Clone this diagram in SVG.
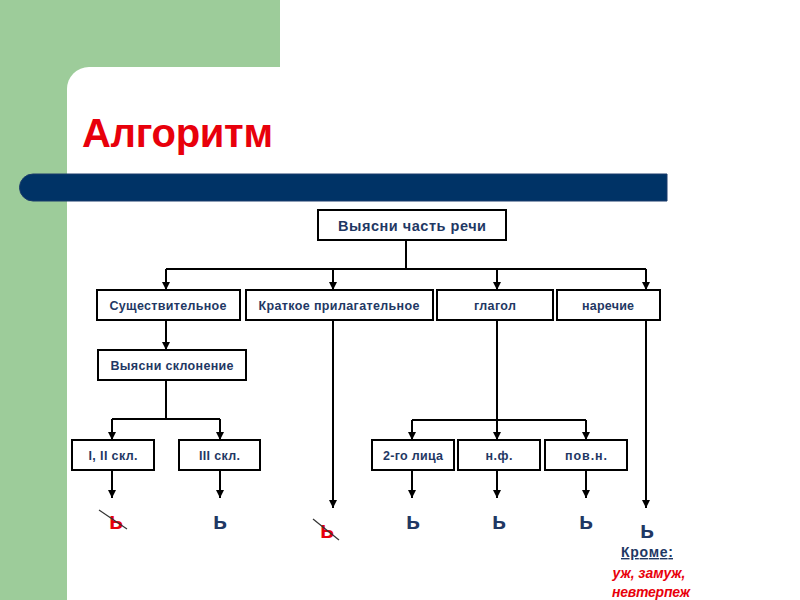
<svg xmlns="http://www.w3.org/2000/svg" width="800" height="600" viewBox="0 0 800 600">
<defs>
<style>
.bg{fill:#9dcc9a}
.box rect{fill:#fff;stroke:#000;stroke-width:2}
.box text{font-family:"Liberation Sans",Arial,sans-serif;font-weight:bold;font-size:12.5px;fill:#1f3864;text-anchor:middle}
.box text.big{font-size:14.5px}
.c path{fill:none;stroke:#000;stroke-width:2}
.c .a{marker-end:url(#ah)}
.soft{font-family:"Liberation Sans",Arial,sans-serif;font-weight:bold;font-size:23px;text-anchor:middle}
.blue{fill:#1f3864}
.red{fill:#e8000b}
.strike{stroke:#333;stroke-width:1.2}
.note{font-family:"Liberation Sans",Arial,sans-serif;font-weight:bold;font-size:14px;text-anchor:middle}
</style>
<marker id="ah" viewBox="0 0 8 8" refX="8" refY="4" markerWidth="8" markerHeight="8" markerUnits="userSpaceOnUse" orient="auto">
<path d="M0,0 L8,4 L0,8 Z" fill="#000"/>
</marker>
</defs>
<rect width="800" height="600" fill="#fff"/>
<rect class="bg" x="0" y="0" width="280" height="95"/>
<rect class="bg" x="0" y="0" width="90" height="600"/>
<rect x="67" y="67" width="780" height="580" rx="22" ry="22" fill="#fff"/>
<path d="M33,174 H667 V201 H33 A13.5,13.5 0 0 1 33,174 Z" fill="#003366" stroke="#1a3a6a" stroke-width="1"/>
<text x="82" y="147" font-family="'Liberation Sans',Arial,sans-serif" font-weight="bold" font-size="40" fill="#e8000b" textLength="191">Алгоритм</text>

<g class="c" id="connectors">
<path d="M406,240 V269"/>
<path d="M166,269 H646"/>
<path class="a" d="M166,269 V290"/>
<path class="a" d="M333,269 V290"/>
<path class="a" d="M497,269 V290"/>
<path class="a" d="M646,269 V290"/>
<path class="a" d="M166,320 V350"/>
<path d="M166,380 V419"/>
<path d="M112,419 H220"/>
<path class="a" d="M112,419 V440"/>
<path class="a" d="M220,419 V440"/>
<path class="a" d="M112,470 V498"/>
<path class="a" d="M220,470 V498"/>
<path class="a" d="M333,320 V508"/>
<path d="M497,320 V420"/>
<path d="M412,420 H586"/>
<path class="a" d="M412,420 V440"/>
<path class="a" d="M497,420 V440"/>
<path class="a" d="M586,420 V440"/>
<path class="a" d="M412,470 V498"/>
<path class="a" d="M497,470 V498"/>
<path class="a" d="M586,470 V498"/>
<path class="a" d="M646,320 V508"/>
</g>

<g class="box" id="n-main"><rect x="318" y="210" width="188" height="30"/><text class="big" x="412" y="230.5" textLength="148">Выясни часть речи</text></g>
<g class="box" id="n-noun"><rect x="97" y="290" width="143" height="30"/><text x="168" y="309.5" textLength="117">Существительное</text></g>
<g class="box" id="n-adj"><rect x="246" y="290" width="187" height="30"/><text x="339" y="309.5" textLength="161">Краткое прилагательное</text></g>
<g class="box" id="n-verb"><rect x="437" y="290" width="116" height="30"/><text x="495" y="309.5" textLength="42">глагол</text></g>
<g class="box" id="n-adv"><rect x="557" y="290" width="103" height="30"/><text x="608" y="309.5" textLength="52">наречие</text></g>
<g class="box" id="n-decl"><rect x="98" y="350" width="148" height="30"/><text x="172" y="369.5" textLength="123">Выясни склонение</text></g>
<g class="box" id="n-d12"><rect x="72" y="440" width="82" height="30"/><text x="113" y="459.5" textLength="49">I, II скл.</text></g>
<g class="box" id="n-d3"><rect x="179" y="440" width="81" height="30"/><text x="219.5" y="459.5" textLength="41">III скл.</text></g>
<g class="box" id="n-2p"><rect x="372" y="440" width="82" height="30"/><text x="413" y="459.5" textLength="60">2-го лица</text></g>
<g class="box" id="n-inf"><rect x="458" y="440" width="82" height="30"/><text x="499" y="459.5" textLength="27">н.ф.</text></g>
<g class="box" id="n-imp"><rect x="545" y="440" width="82" height="30"/><text x="586" y="459.5" textLength="42">пов.н.</text></g>

<g id="r-1"><text class="soft red" x="116" y="529">ь</text><line class="strike" x1="99" y1="510" x2="127" y2="529"/></g>
<g id="r-2"><text class="soft blue" x="220" y="529">ь</text></g>
<g id="r-3"><text class="soft red" x="327" y="538">ь</text><line class="strike" x1="313" y1="519" x2="339" y2="540"/></g>
<g id="r-4"><text class="soft blue" x="413" y="529">ь</text></g>
<g id="r-5"><text class="soft blue" x="499" y="529">ь</text></g>
<g id="r-6"><text class="soft blue" x="586" y="529">ь</text></g>
<g id="r-7"><text class="soft blue" x="647" y="538">ь</text>
<text class="note blue" x="647" y="557" text-decoration="underline" textLength="52">Кроме:</text>
<text class="note red" x="649" y="578" font-style="italic" textLength="73">уж, замуж,</text>
<text class="note red" x="651" y="597" font-style="italic" textLength="78">невтерпеж</text>
</g>
</svg>
